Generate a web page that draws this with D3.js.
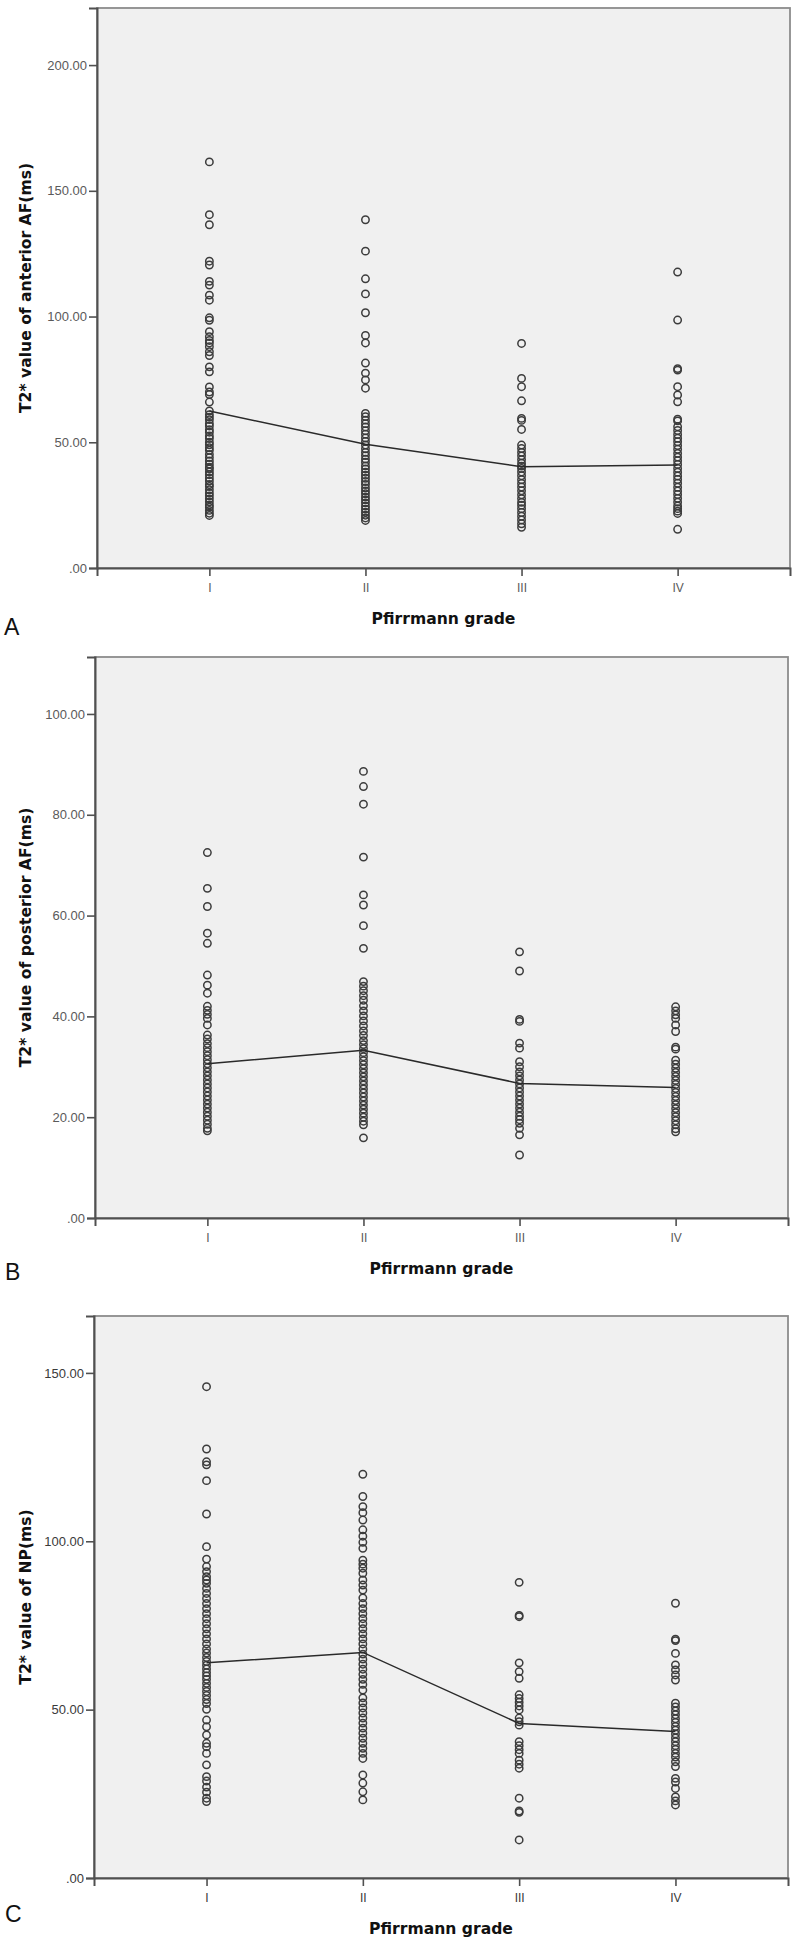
<!DOCTYPE html>
<html>
<head>
<meta charset="utf-8">
<script src="https://cdn.jsdelivr.net/npm/d3@7/dist/d3.min.js"></script>
<style>
  html, body { margin: 0; padding: 0; background: #ffffff; }
  svg { display: block; }
</style>
</head>
<body>
<svg id="chart" width="800" height="1941"></svg>
<script>
// ---------------- DATA ----------------
const grades = ["I", "II", "III", "IV"];
const xTitle = "Pfirrmann grade";
const yTitles = ["T2* value of anterior AF(ms)", "T2* value of posterior AF(ms)", "T2* value of NP(ms)"];
const panelLetters = ["A", "B", "C"];

const ticksA = [0, 50, 100, 150, 200];
const ticksB = [0, 20, 40, 60, 80, 100];
const ticksC = [0, 50, 100, 150];

const meansA = [62.4, 49.2, 40.3, 41.0];
const meansB = [30.6, 33.3, 26.7, 25.9];
const meansC = [63.9, 67.0, 45.9, 43.5];

// Panel A: anterior AF
const anteriorI = [161.5, 140.5, 136.5, 122, 120.5, 114, 112.5, 108.5, 106.5, 99.5, 98.5, 94, 92, 90.5, 89.5, 88, 86, 84.5, 80, 78, 72, 70, 69, 66, 62.5, 61, 60, 59, 57.5, 56.5, 55, 54, 52.5, 51.5, 50, 49, 47.8, 46.8, 45.2, 43.9, 42.6, 41.3, 40.1, 39.4, 38.2, 37.1, 35.8, 34.6, 33.2, 32.4, 31.1, 29.8, 28.7, 27.5, 26.3, 25.1, 24.2, 22.9, 21.8, 20.9];
const anteriorII = [138.5, 126, 115, 109, 101.5, 92.5, 89.5, 81.5, 77.5, 74.8, 71.5, 61.5, 60.2, 58.8, 57.4, 56.1, 54.6, 53.2, 51.7, 50.3, 48.9, 47.4, 46, 44.7, 43.3, 42.1, 40.6, 39.4, 38.1, 36.9, 35.7, 34.4, 33.2, 31.8, 30.6, 29.5, 28.2, 27.1, 25.9, 24.6, 23.4, 22.2, 21, 19.9, 18.9];
const anteriorIII = [89.3, 75.4, 72.1, 66.5, 59.5, 58.7, 55.1, 48.9, 47.5, 46, 44.6, 43.1, 41.7, 40.5, 39.6, 38.2, 36.7, 35.1, 33.6, 32.2, 30.7, 29.1, 27.6, 26.1, 25, 23.6, 22.1, 20.6, 19.1, 17.6, 16.2];
const anteriorIV = [117.7, 98.6, 79.3, 78.7, 72.1, 68.8, 66.1, 59.2, 58.5, 56.2, 54.7, 53.1, 51.6, 50.2, 48.7, 47.2, 45.6, 44.1, 42.7, 41.2, 39.6, 38.1, 36.6, 35.2, 33.7, 32.1, 30.6, 29.2, 27.7, 26.2, 24.7, 23.6, 22.6, 21.7, 15.4];

// Panel B: posterior AF
const posteriorI = [72.5, 65.4, 61.8, 56.5, 54.5, 48.2, 46.2, 44.6, 42, 41.2, 40.4, 39.6, 38.3, 36.3, 35.5, 34.6, 33.8, 33, 32.2, 31.4, 30.6, 29.8, 29, 28.2, 27.4, 26.6, 25.8, 25, 24.2, 23.4, 22.6, 21.8, 21, 20.2, 19.4, 18.6, 17.8, 17.3];
const posteriorII = [88.6, 85.6, 82.1, 71.6, 64.1, 62.1, 58, 53.5, 46.9, 46, 45.1, 44.1, 43.2, 42.1, 41.1, 40.1, 39.1, 38.1, 37.1, 36.2, 35.2, 34.4, 33.6, 32.8, 32, 31.2, 30.4, 29.6, 28.8, 28, 27.2, 26.4, 25.6, 24.8, 24, 23.2, 22.4, 21.6, 20.8, 20, 19.2, 18.5, 15.9];
const posteriorIII = [52.8, 49, 39.4, 39.0, 34.7, 33.7, 31, 30, 29, 28.2, 27.4, 26.6, 25.8, 25, 24.2, 23.4, 22.6, 21.8, 21, 20.2, 19.5, 18.8, 17.8, 16.5, 12.5];
const posteriorIV = [41.9, 41.1, 40.3, 39.6, 38.3, 37, 33.9, 33.5, 31.3, 30.5, 29.7, 28.9, 28.1, 27.3, 26.5, 25.7, 24.9, 24.1, 23.3, 22.5, 21.7, 20.9, 20.1, 19.3, 18.5, 17.7, 17.1];

// Panel C: NP
const npI = [145.9, 127.4, 123.6, 122.7, 118, 108.1, 98.4, 94.7, 92.5, 91, 89.5, 88.5, 87.5, 86, 84.5, 83, 81.5, 80, 78.5, 77, 75.5, 74, 72.5, 71, 69.5, 68, 66.8, 65.5, 64.3, 63.2, 62.1, 61, 60, 59, 57.8, 56.6, 55.4, 54.2, 53, 51.8, 50.1, 46.9, 44.9, 42.5, 40, 39, 37, 33.6, 30.1, 28.8, 27, 25.5, 23.7, 22.7];
const npII = [119.9, 113.3, 110.3, 108.5, 106.3, 103.4, 101.5, 99.7, 97.9, 94.4, 93.2, 92, 90.5, 88.5, 87, 85.5, 83.2, 81.5, 80, 78.5, 77, 75.5, 74, 72.5, 71, 69.5, 68, 66.5, 65, 63.5, 62, 60.5, 59, 57.5, 55.8, 53.5, 52, 50.5, 49, 47.5, 46, 44.5, 43, 41.5, 40, 38.5, 37, 35.5, 30.6, 28.2, 25.6, 23.2];
const npIII = [87.8, 78, 77.6, 63.9, 61.3, 59.3, 54.4, 53.3, 52.2, 51.1, 49.9, 47.5, 46.4, 45.4, 40.5, 39.3, 38.1, 37, 35, 33.8, 32.6, 23.7, 19.9, 19.5, 11.3];
const npIV = [81.6, 70.9, 70.5, 66.7, 63.3, 61.8, 60.3, 58.8, 51.9, 50.8, 49.6, 48.5, 47.3, 46.2, 45, 43.9, 42.8, 41.6, 40.5, 39.3, 38.2, 37, 35.9, 34.5, 33.1, 29.6, 28.5, 26.6, 24.1, 22.9, 21.7];

// ---------------- LAYOUT ----------------
const layout = [
  { left: 97, right: 790, top: 8,    bottom: 568,  yMax: 222.7, letterX: 4, letterY: 635,  tickColor: "#5a5a5a" },
  { left: 95, right: 788, top: 657,  bottom: 1218, yMax: 111.3, letterX: 5, letterY: 1280, tickColor: "#5a5a5a" },
  { left: 94, right: 788, top: 1316, bottom: 1878, yMax: 166.9, letterX: 5, letterY: 1922, tickColor: "#3a3a3a" }
];

const panels = [
  { ticks: ticksA, means: meansA, groups: [anteriorI, anteriorII, anteriorIII, anteriorIV] },
  { ticks: ticksB, means: meansB, groups: [posteriorI, posteriorII, posteriorIII, posteriorIV] },
  { ticks: ticksC, means: meansC, groups: [npI, npII, npIII, npIV] }
];

const fmt = v => v === 0 ? ".00" : v.toFixed(2);
const svg = d3.select("#chart");

panels.forEach((p, i) => {
  const L = layout[i];
  const x = d3.scalePoint().domain(grades).range([L.left, L.right]).padding(0.72);
  const y = d3.scaleLinear().domain([0, L.yMax]).range([L.bottom, L.top]);
  const g = svg.append("g");

  g.append("rect")
    .attr("x", L.left).attr("y", L.top)
    .attr("width", L.right - L.left).attr("height", L.bottom - L.top)
    .attr("fill", "#f0f0f0").attr("stroke", "#8c8c8c").attr("stroke-width", 1.8);

  const ya = g.append("g").attr("transform", `translate(${L.left},0)`)
    .call(d3.axisLeft(y).tickValues(p.ticks).tickFormat(fmt).tickSize(8).tickPadding(2));
  ya.select(".domain").attr("stroke", "#505050").attr("stroke-width", 2);
  ya.selectAll(".tick line").attr("stroke", "#505050").attr("stroke-width", 1.6);
  ya.selectAll(".tick text").attr("fill", L.tickColor)
    .style("font-family", "'Liberation Sans', Arial, sans-serif").style("font-size", "13px");

  const xa = g.append("g").attr("transform", `translate(0,${L.bottom})`)
    .call(d3.axisBottom(x).tickSize(8).tickPadding(7));
  xa.select(".domain").attr("stroke", "#505050").attr("stroke-width", 2);
  xa.selectAll(".tick line").attr("stroke", "#505050").attr("stroke-width", 1.6);
  xa.selectAll(".tick text").attr("fill", L.tickColor)
    .style("font-family", "'Liberation Sans', Arial, sans-serif").style("font-size", "12px");

  p.groups.forEach((vals, gi) => {
    g.append("g").selectAll("circle").data(vals).join("circle")
      .attr("cx", x(grades[gi]))
      .attr("cy", d => y(d))
      .attr("r", 3.7)
      .attr("fill", "none")
      .attr("stroke", "#3c3c3c")
      .attr("stroke-width", 1.5);
  });

  const line = d3.line().x((d, k) => x(grades[k])).y(d => y(d));
  g.append("path").datum(p.means)
    .attr("d", line)
    .attr("fill", "none")
    .attr("stroke", "#2a2a2a")
    .attr("stroke-width", 1.5);

  g.append("text")
    .attr("x", (L.left + L.right) / 2).attr("y", L.bottom + 56)
    .attr("text-anchor", "middle")
    .style("font-family", "'DejaVu Sans', sans-serif").style("font-weight", "bold").style("font-size", "15.6px")
    .attr("fill", "#111")
    .text(xTitle);

  g.append("text")
    .attr("transform", `translate(31,${(L.top + L.bottom) / 2}) rotate(-90)`)
    .attr("text-anchor", "middle")
    .style("font-family", "'DejaVu Sans', sans-serif").style("font-weight", "bold").style("font-size", "15.6px")
    .attr("fill", "#111")
    .text(yTitles[i]);

  g.append("text")
    .attr("x", L.letterX).attr("y", L.letterY)
    .style("font-family", "'Liberation Sans', Arial, sans-serif").style("font-size", "23px")
    .attr("fill", "#111")
    .text(panelLetters[i]);
});
</script>
</body>
</html>
